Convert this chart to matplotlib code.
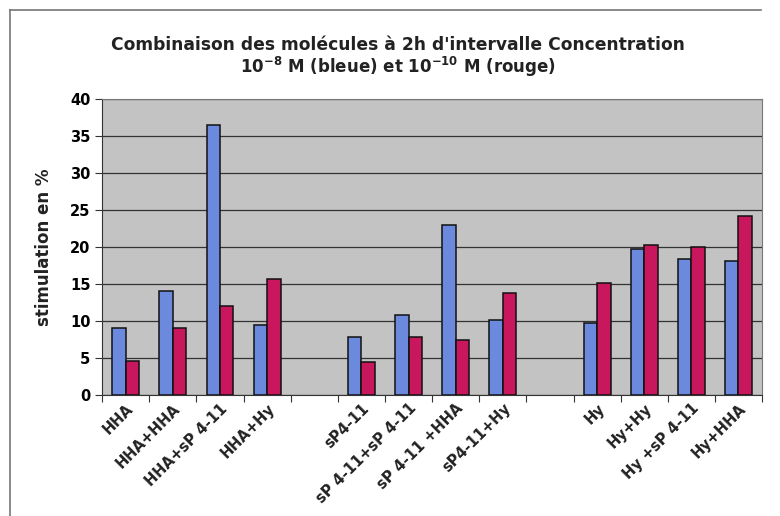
import matplotlib.pyplot as plt
from matplotlib.lines import Line2D
import numpy as np

# categories ('' = empty slot between the groups)
categories = ['HHA', 'HHA+HHA', 'HHA+sP 4-11', 'HHA+Hy', '',
              'sP4-11', 'sP 4-11+sP 4-11', 'sP 4-11 +HHA', 'sP4-11+Hy', '',
              'Hy', 'Hy+Hy', 'Hy +sP 4-11', 'Hy+HHA']
bleue = [9.0, 14.0, 36.5, 9.5, np.nan,
         7.8, 10.8, 22.9, 10.1, np.nan,
         9.8, 19.7, 18.4, 18.1]
rouge = [4.6, 9.1, 12.0, 15.7, np.nan,
         4.5, 7.8, 7.5, 13.8, np.nan,
         15.2, 20.3, 20.0, 24.1]
yticks = [0, 5, 10, 15, 20, 25, 30, 35, 40]

fig = plt.figure(figsize=(7.8, 5.16), dpi=100)
ax = fig.add_axes([0.131, 0.234, 0.846, 0.575])

x = np.arange(len(categories))
w = 0.285
ax.bar(x - w / 2, bleue, w, color='#6b8ade', edgecolor='#111111', linewidth=1.1, zorder=3)
ax.bar(x + w / 2, rouge, w, color='#c8175c', edgecolor='#111111', linewidth=1.1, zorder=3)

ax.set_facecolor('#c3c3c3')
ax.set_xlim(-0.5, len(categories) - 0.5)
ax.set_ylim(0, 40)
ax.set_yticks(yticks)
ax.set_yticklabels([str(t) for t in yticks], fontsize=10.5, fontweight='bold')
ax.yaxis.grid(True, color='#333333', linewidth=0.9, zorder=1)

# ticks between categories, labels at centers
ax.set_xticks(np.arange(len(categories) + 1) - 0.5)
ax.set_xticklabels([])
ax.set_xticks(x, minor=True)
ax.set_xticklabels(categories, minor=True, rotation=45, ha='right',
                   rotation_mode='anchor', fontsize=10.5, fontweight='bold',
                   color='#222222')
ax.tick_params(axis='x', which='minor', length=0, pad=4)
ax.tick_params(axis='x', which='major', length=5, color='#333333')
ax.tick_params(axis='y', length=5, color='#333333')

for side in ['top', 'right']:
    ax.spines[side].set_color('#777777')
for side in ['left', 'bottom']:
    ax.spines[side].set_color('#333333')

ax.set_ylabel('stimulation en %', fontsize=12, fontweight='bold', labelpad=12,
              color='#222222')

fig.text(0.51, 0.913, "Combinaison des molécules à 2h d'intervalle Concentration",
         ha='center', va='center', fontsize=12.3, fontweight='bold', color='#222222')
fig.text(0.51, 0.871, r"10$^{\mathbf{-8}}$ M (bleue) et 10$^{\mathbf{-10}}$ M (rouge)",
         ha='center', va='center', fontsize=12, fontweight='bold', color='#222222')

# outer frame (top and left edges)
fig.add_artist(Line2D([0.013, 0.975], [0.981, 0.981], color='#777777', linewidth=1.2))
fig.add_artist(Line2D([0.013, 0.013], [0.0, 0.981], color='#777777', linewidth=1.2))

plt.savefig('out.png', dpi=100)
plt.close()
